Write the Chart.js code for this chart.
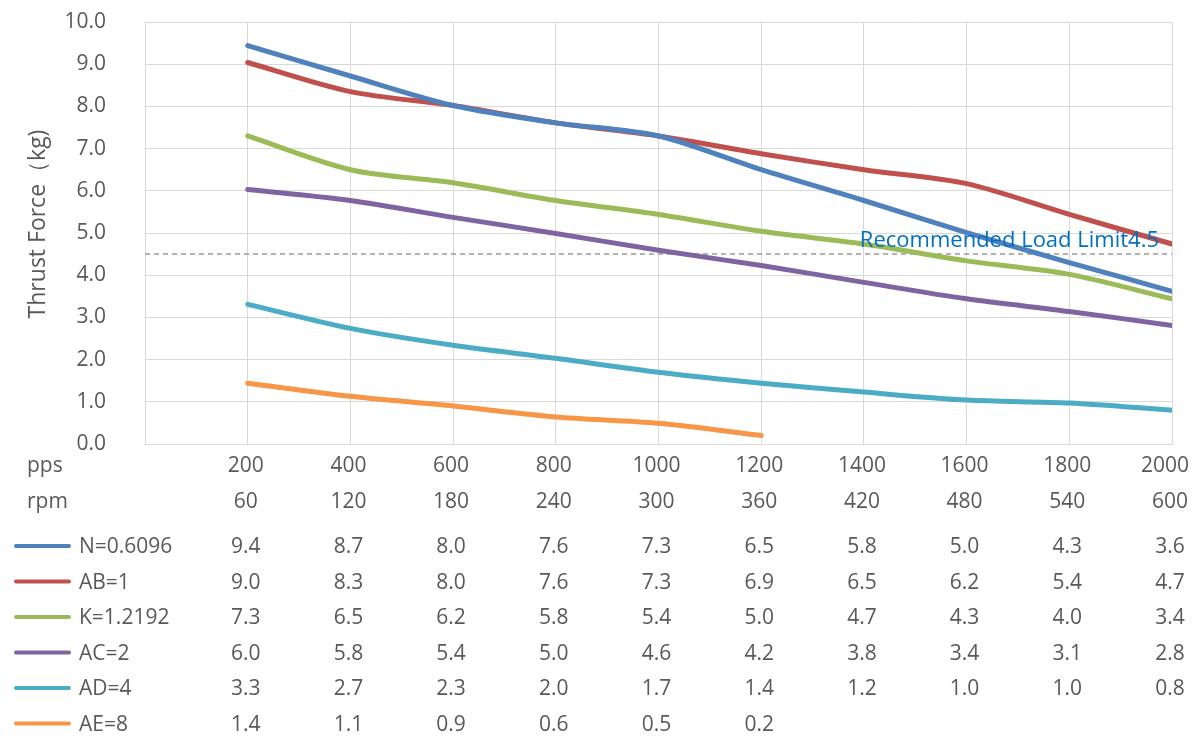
<!DOCTYPE html>
<html>
<head>
<meta charset="utf-8">
<script src="https://cdn.jsdelivr.net/npm/chart.js@4.4.1/dist/chart.umd.min.js"></script>
<style>
  html, body { margin: 0; padding: 0; background: #fff; }
  #wrap { width: 1193px; height: 736px; position: relative; }
</style>
</head>
<body>
<div id="wrap"><canvas id="c"></canvas></div>
<script>
// pulse rate (pps) and speed (rpm) for each column of the table
const pps = [200, 400, 600, 800, 1000, 1200, 1400, 1600, 1800, 2000];
const rpm = [60, 120, 180, 240, 300, 360, 420, 480, 540, 600];

const seriesNames = ["N=0.6096", "AB=1", "K=1.2192", "AC=2", "AD=4", "AE=8"];
const seriesColors = ["#4F81BD", "#C0504D", "#9BBB59", "#8064A2", "#4BACC6", "#F79646"];

// thrust force (kg) per series
const valsN  = [9.44, 8.72, 8.02, 7.61, 7.30, 6.50, 5.77, 5.01, 4.30, 3.62];
const valsAB = [9.04, 8.35, 8.02, 7.61, 7.30, 6.88, 6.50, 6.17, 5.44, 4.74];
const valsK  = [7.30, 6.50, 6.19, 5.77, 5.44, 5.04, 4.74, 4.34, 4.02, 3.44];
const valsAC = [6.03, 5.77, 5.37, 4.99, 4.59, 4.23, 3.83, 3.44, 3.14, 2.81];
const valsAD = [3.31, 2.74, 2.34, 2.03, 1.70, 1.44, 1.23, 1.04, 0.97, 0.80];
const valsAE = [1.44, 1.13, 0.90, 0.64, 0.49, 0.20];
const allVals = [valsN, valsAB, valsK, valsAC, valsAD, valsAE];

const loadLimit = 4.5;
const limitLabel = "Recommended Load Limit4.5";
const yTitle = "Thrust Force（kg)";

const FONT = "'Open Sans', 'Noto Sans', sans-serif";
const TXT = "#595959";

const datasets = allVals.map((v, i) => ({
  label: seriesNames[i],
  data: v.map((y, j) => ({ x: pps[j], y: y })),
  borderColor: seriesColors[i],
  backgroundColor: seriesColors[i],
  borderWidth: 5,
  pointRadius: 0,
  tension: 0.3,
  borderCapStyle: "round"
}));
datasets.push({
  label: "limit",
  data: [{ x: 0, y: loadLimit }, { x: 2000, y: loadLimit }],
  borderColor: "#999999",
  borderWidth: 1.5,
  borderDash: [5, 4],
  pointRadius: 0,
  tension: 0
});

// draws the y title, the limit label and the data table under the plot
const tablePlugin = {
  id: "tablePlugin",
  afterDraw(chart) {
    const ctx = chart.ctx;
    const xs = chart.scales.x, ys = chart.scales.y;
    ctx.save();
    ctx.fillStyle = TXT;

    // y axis title
    ctx.save();
    ctx.font = "23px " + FONT;
    ctx.translate(38, 224);
    ctx.rotate(-Math.PI / 2);
    ctx.textAlign = "center";
    ctx.textBaseline = "middle";
    ctx.fillText(yTitle, 0, 0);
    ctx.restore();

    // limit label
    ctx.save();
    ctx.font = "22px " + FONT;
    ctx.fillStyle = "#0070C0";
    ctx.textAlign = "right";
    ctx.textBaseline = "alphabetic";
    ctx.fillText(limitLabel, 1159, ys.getPixelForValue(loadLimit) - 7);
    ctx.restore();

    ctx.font = "21px " + FONT;
    const cx = (txt, x) => Math.min(x - 2, 1189 - ctx.measureText(txt).width / 2);

    ctx.textBaseline = "alphabetic";
    ctx.textAlign = "left";
    ctx.fillText("pps", 27, 472);
    ctx.fillText("rpm", 27, 508);
    ctx.textAlign = "center";
    pps.forEach((p, j) => {
      const x = xs.getPixelForValue(p);
      ctx.fillText(String(p), cx(String(p), x), 472);
      ctx.fillText(String(rpm[j]), cx(String(rpm[j]), x), 508);
    });

    seriesNames.forEach((name, i) => {
      const base = 553 + i * 35.5;
      ctx.strokeStyle = seriesColors[i];
      ctx.lineWidth = 4;
      ctx.lineCap = "round";
      ctx.beginPath();
      ctx.moveTo(16, base - 7);
      ctx.lineTo(69, base - 7);
      ctx.stroke();
      ctx.textAlign = "left";
      ctx.fillText(name, 79, base);
      ctx.textAlign = "center";
      allVals[i].forEach((v, j) => {
        const t = v.toFixed(1);
        ctx.fillText(t, cx(t, xs.getPixelForValue(pps[j])), base);
      });
    });
    ctx.restore();
  }
};

new Chart(document.getElementById("c"), {
  type: "line",
  data: { datasets: datasets },
  plugins: [tablePlugin],
  options: {
    responsive: true,
    maintainAspectRatio: false,
    animation: false,
    layout: { padding: { left: 0, right: 21, top: 22, bottom: 0 } },
    plugins: { legend: { display: false }, tooltip: { enabled: false } },
    scales: {
      x: {
        type: "linear",
        min: 0, max: 2000,
        ticks: { stepSize: 200, display: false },
        grid: { color: "#D9D9D9", drawTicks: false },
        border: { color: "#D9D9D9" },
        afterFit(scale) { scale.height = 292; }
      },
      y: {
        min: 0, max: 10,
        ticks: {
          stepSize: 1,
          padding: 0,
          color: TXT,
          font: { family: FONT, size: 21 },
          callback: v => v.toFixed(1)
        },
        grid: { color: "#D9D9D9", tickLength: 39, tickColor: "rgba(0,0,0,0)" },
        border: { color: "#D9D9D9" },
        afterFit(scale) { scale.width = 145; }
      }
    }
  }
});
</script>
</body>
</html>
